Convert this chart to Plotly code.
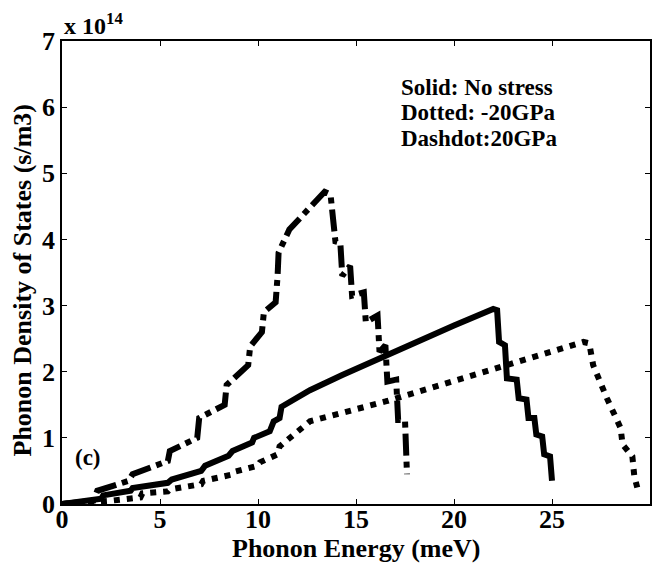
import plotly.graph_objects as go

# Phonon energy (meV) and phonon DOS (units of 1e14 s/m3)
E_nostress = [0, 1.0, 2.0, 2.1, 3.5, 3.6, 5.4, 5.6, 7.1, 7.3, 8.5, 8.7, 9.7, 9.8, 10.6, 10.8, 11.1, 11.2,
              12.65, 14.3, 16.2, 18.0, 20.0, 22.0, 22.2, 22.3, 22.6, 22.7, 23.2, 23.3, 23.7, 23.8,
              24.1, 24.2, 24.5, 24.6, 24.9, 25.0]
D_nostress = [0, 0.03, 0.08, 0.13, 0.2, 0.24, 0.32, 0.37, 0.5, 0.58, 0.73, 0.8, 0.93, 1.0, 1.1, 1.25, 1.3, 1.47,
              1.72, 1.95, 2.2, 2.45, 2.7, 2.95, 2.93, 2.45, 2.4, 1.9, 1.88, 1.6, 1.58, 1.3,
              1.3, 1.05, 1.02, 0.75, 0.72, 0.35]

E_neg20 = [0, 1.5, 2.5, 4.0, 4.1, 5.4, 5.5, 7.1, 7.2, 8.6, 8.7, 10.0, 10.1, 11.0, 11.1, 12.65,
           16.5, 22.7, 26.6, 26.9, 27.1, 27.8, 28.5, 28.6, 29.1, 29.2, 29.35]
D_neg20 = [0, 0.02, 0.05, 0.1, 0.16, 0.19, 0.22, 0.3, 0.35, 0.44, 0.48, 0.58, 0.63, 0.75, 0.87, 1.25,
           1.55, 2.1, 2.45, 2.43, 2.1, 1.6, 1.15, 0.9, 0.72, 0.42, 0.25]

E_pos20 = [0, 0.8, 1.6, 1.8, 3.4, 3.6, 5.4, 5.5, 6.9, 7.0, 8.3, 8.4, 9.5, 9.6, 10.2, 10.3, 10.9, 11.0, 11.05,
           11.6, 12.6, 13.4, 13.7, 13.8, 13.95, 14.2, 14.3, 14.7, 14.8, 15.4, 15.5, 16.1, 16.2, 16.5, 16.6,
           17.05, 17.15, 17.5, 17.55, 17.6]
D_pos20 = [0, 0.02, 0.05, 0.2, 0.35, 0.45, 0.65, 0.8, 1.0, 1.3, 1.5, 1.8, 2.1, 2.38, 2.6, 2.9, 3.05, 3.45, 3.8,
           4.15, 4.45, 4.72, 4.68, 4.3, 3.97, 3.95, 3.45, 3.6, 3.15, 3.2, 2.75, 2.85, 2.3, 2.4, 1.85,
           1.88, 1.27, 1.27, 0.7, 0.45]

x_ticks = [0, 5, 10, 15, 20, 25, 30]
y_ticks = [0, 1, 2, 3, 4, 5, 6, 7]
legend_lines = ["Solid: No stress", "Dotted: -20GPa", "Dashdot:20GPa"]

FONT = "Liberation Serif"
LW = 6

fig = go.Figure()
fig.add_trace(go.Scatter(x=E_nostress, y=D_nostress, mode="lines",
                         line=dict(color="black", width=LW, dash="solid"), name="No stress"))
fig.add_trace(go.Scatter(x=E_neg20, y=D_neg20, mode="lines",
                         line=dict(color="black", width=LW, dash="6px,7px"), name="-20GPa"))
fig.add_trace(go.Scatter(x=E_pos20, y=D_pos20, mode="lines",
                         line=dict(color="black", width=LW, dash="22px,6px,6px,6px"), name="20GPa"))

axis_common = dict(showline=True, linecolor="black", linewidth=1.5, mirror="ticks",
                   ticks="inside", ticklen=5, tickcolor="black", tickwidth=1,
                   showgrid=False, zeroline=False, automargin=False,
                   tickfont=dict(family=FONT, size=26, color="black"))

fig.update_layout(
    width=660, height=564,
    margin=dict(l=62, r=10, t=41, b=60),
    paper_bgcolor="white", plot_bgcolor="white",
    showlegend=False,
    font=dict(family=FONT, color="black"),
    xaxis=dict(range=[0, 30], tickvals=x_ticks, ticktext=[f"<b>{v}</b>" for v in x_ticks],
               ticklabelstandoff=-9, **axis_common),
    yaxis=dict(range=[0, 7], tickvals=y_ticks, ticktext=[f"<b>{v}</b>" for v in y_ticks],
               **axis_common),
)

# axis titles
fig.add_annotation(xref="paper", yref="paper", x=0.5, y=0, yshift=-44, xanchor="center", yanchor="middle",
                   text="<b>Phonon Energy (meV)</b>", showarrow=False,
                   font=dict(family=FONT, size=26, color="black"))
fig.add_annotation(xref="paper", yref="paper", x=0, xshift=-40, y=0.5, yshift=-8, xanchor="center", yanchor="middle",
                   text="<b>Phonon Density of States (s/m3)</b>", showarrow=False, textangle=-90,
                   font=dict(family=FONT, size=26, color="black"))

fig.add_annotation(xref="paper", yref="paper", x=0, y=1, xanchor="left", yanchor="bottom",
                   text="<b>x 10<sup>14</sup></b>", showarrow=False,
                   font=dict(family=FONT, size=24, color="black"), yshift=0)
for i, t in enumerate(legend_lines):
    fig.add_annotation(xref="x", yref="y", x=17.2, y=6.3 - i * 0.385, xanchor="left", yanchor="middle",
                       text=f"<b>{t}</b>", showarrow=False,
                       font=dict(family=FONT, size=23, color="black"))
fig.add_annotation(xref="x", yref="y", x=0.55, y=0.7, xanchor="left", yanchor="middle",
                   text="<b>(c)</b>", showarrow=False,
                   font=dict(family=FONT, size=23, color="black"))

fig.write_html("out.html")
